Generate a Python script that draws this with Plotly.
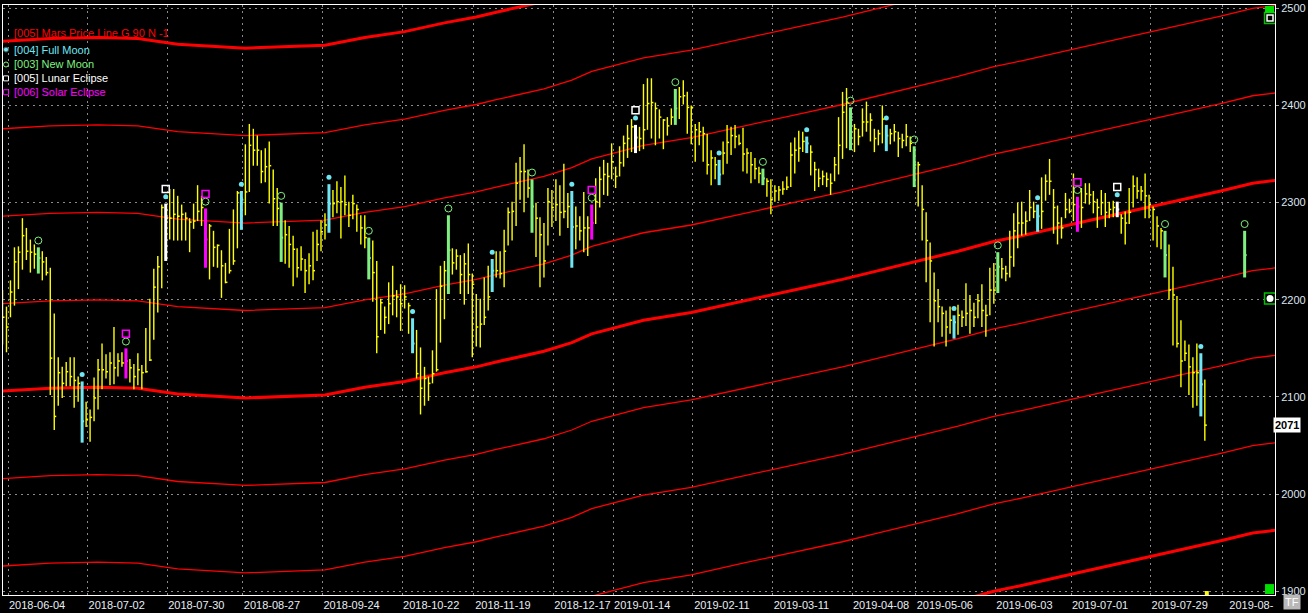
import plotly.graph_objects as go

# daily bars, index 0 = 2018-05-31
highs = [
    2210, 2193, 2220, 2254, 2255, 2284, 2274, 2262, 2257, 2254,
    2250, 2244, 2233, 2186, 2141, 2131, 2136, 2141, 2141, 2121,
    2116, 2095, 2087, 2120, 2139, 2155, 2144, 2146, 2172, 2145,
    2146, 2150, 2139, 2134, 2145, 2133, 2171, 2201, 2232, 2245,
    2298, 2299, 2314, 2314, 2307, 2298, 2290, 2284, 2299, 2318,
    2307, 2294, 2278, 2271, 2257, 2251, 2238, 2273, 2293, 2312,
    2312, 2360, 2381, 2376, 2369, 2354, 2356, 2363, 2334, 2315,
    2300, 2282, 2276, 2266, 2253, 2255, 2242, 2248, 2270, 2272,
    2282, 2289, 2319, 2313, 2322, 2316, 2328, 2301, 2308, 2298,
    2287, 2287, 2264, 2261, 2240, 2201, 2193, 2218, 2235, 2210,
    2216, 2215, 2197, 2181, 2169, 2151, 2131, 2121, 2148, 2211,
    2235, 2240, 2287, 2253, 2252, 2246, 2248, 2258, 2227, 2206,
    2201, 2223, 2235, 2242, 2250, 2250, 2272, 2295, 2301, 2341,
    2347, 2360, 2334, 2324, 2300, 2285, 2279, 2315, 2313, 2324,
    2318, 2340, 2310, 2312, 2296, 2286, 2311, 2286, 2298, 2325,
    2337, 2344, 2341, 2361, 2337, 2358, 2369, 2380, 2386, 2380,
    2378, 2422, 2428, 2428, 2403, 2396, 2386, 2388, 2397, 2417,
    2419, 2426, 2414, 2400, 2381, 2383, 2378, 2371, 2354, 2347,
    2344, 2363, 2380, 2378, 2380, 2370, 2377, 2356, 2352, 2346,
    2337, 2335, 2325, 2324, 2318, 2317, 2322, 2327, 2362, 2367,
    2374, 2373, 2368, 2359, 2342, 2335, 2333, 2331, 2330, 2347,
    2388, 2414, 2418, 2398, 2381, 2376, 2397, 2404, 2392, 2376,
    2375, 2400, 2380, 2376, 2381, 2373, 2371, 2381, 2368, 2358,
    2342, 2318, 2290, 2259, 2228, 2211, 2193, 2189, 2193, 2184,
    2195, 2189, 2217, 2205, 2197, 2206, 2216, 2195, 2233, 2238,
    2249, 2243, 2235, 2271, 2289, 2300, 2301, 2291, 2313, 2301,
    2298, 2326, 2329, 2345, 2314, 2297, 2285, 2310, 2304, 2330,
    2306, 2315, 2320, 2320, 2312, 2304, 2313, 2310, 2301, 2302,
    2301, 2288, 2291, 2315, 2328, 2326, 2317, 2330, 2308, 2296,
    2286, 2274, 2271, 2257, 2234, 2204, 2179, 2158, 2154, 2141,
    2155, 2145, 2118,
]
lows = [
    2154, 2146, 2182, 2194, 2211, 2231, 2241, 2228, 2232, 2227,
    2220, 2225, 2102, 2066, 2091, 2099, 2111, 2111, 2089, 2095,
    2053, 2069, 2054, 2075, 2087, 2108, 2119, 2112, 2113, 2121,
    2131, 2119, 2115, 2108, 2112, 2108, 2125, 2137, 2159, 2187,
    2212, 2240, 2262, 2261, 2261, 2261, 2261, 2249, 2273, 2281,
    2276, 2233, 2221, 2234, 2233, 2202, 2217, 2227, 2236, 2253,
    2272, 2287, 2311, 2338, 2338, 2320, 2321, 2299, 2276, 2276,
    2239, 2237, 2233, 2214, 2223, 2230, 2207, 2216, 2220, 2240,
    2250, 2262, 2269, 2285, 2289, 2263, 2287, 2275, 2283, 2270,
    2257, 2253, 2221, 2198, 2145, 2169, 2165, 2175, 2184, 2182,
    2168, 2191, 2165, 2145, 2119, 2082, 2091, 2096, 2114, 2126,
    2156, 2180, 2206, 2226, 2231, 2206, 2195, 2206, 2141, 2152,
    2151, 2174, 2189, 2208, 2223, 2222, 2213, 2256, 2261, 2276,
    2303, 2290, 2305, 2269, 2244, 2213, 2223, 2256, 2275, 2281,
    2266, 2284, 2274, 2233, 2252, 2261, 2249, 2245, 2262, 2278,
    2295, 2308, 2307, 2324, 2315, 2327, 2337, 2346, 2352, 2351,
    2353, 2355, 2375, 2366, 2359, 2366, 2355, 2369, 2380, 2380,
    2386, 2401, 2371, 2360, 2342, 2359, 2342, 2329, 2318, 2324,
    2318, 2329, 2340, 2349, 2356, 2359, 2332, 2330, 2320, 2324,
    2320, 2318, 2306, 2288, 2301, 2302, 2308, 2313, 2316, 2330,
    2342, 2352, 2351, 2328, 2312, 2316, 2318, 2316, 2308, 2322,
    2329, 2345, 2356, 2354, 2352, 2359, 2368, 2373, 2363, 2352,
    2359, 2361, 2353, 2360, 2363, 2347, 2356, 2358, 2352, 2316,
    2296, 2261, 2218, 2177, 2152, 2177, 2162, 2152, 2165, 2160,
    2164, 2172, 2173, 2165, 2172, 2181, 2172, 2162, 2184, 2196,
    2207, 2222, 2219, 2223, 2234, 2253, 2266, 2267, 2281, 2284,
    2270, 2273, 2302, 2308, 2268, 2257, 2263, 2284, 2289, 2281,
    2270, 2274, 2299, 2298, 2289, 2274, 2287, 2275, 2284, 2285,
    2285, 2268, 2257, 2278, 2295, 2304, 2302, 2284, 2284, 2261,
    2254, 2252, 2223, 2200, 2153, 2151, 2110, 2137, 2102, 2089,
    2091, 2080, 2055,
]
closes = [
    2182, 2172, 2208, 2239, 2249, 2266, 2250, 2249, 2247, 2243,
    2239, 2228, 2140, 2080, 2125, 2114, 2126, 2121, 2117, 2114,
    2075, 2077, 2079, 2099, 2128, 2128, 2126, 2135, 2130, 2137,
    2135, 2137, 2130, 2121, 2128, 2125, 2126, 2138, 2213, 2234,
    2295, 2284, 2284, 2288, 2286, 2288, 2284, 2280, 2281, 2291,
    2295, 2262, 2276, 2254, 2256, 2235, 2218, 2230, 2240, 2310,
    2303, 2311, 2359, 2354, 2354, 2332, 2337, 2338, 2304, 2294,
    2264, 2267, 2257, 2252, 2233, 2242, 2230, 2235, 2230, 2257,
    2270, 2277, 2299, 2299, 2301, 2301, 2298, 2287, 2299, 2293,
    2274, 2264, 2243, 2228, 2162, 2197, 2182, 2196, 2204, 2203,
    2196, 2203, 2194, 2155, 2124, 2109, 2119, 2114, 2124, 2128,
    2214, 2230, 2251, 2238, 2245, 2226, 2237, 2226, 2216, 2172,
    2175, 2182, 2203, 2230, 2230, 2227, 2250, 2290, 2291, 2320,
    2332, 2332, 2315, 2296, 2284, 2267, 2240, 2301, 2295, 2298,
    2290, 2291, 2296, 2275, 2276, 2271, 2274, 2274, 2279, 2301,
    2324, 2329, 2327, 2342, 2327, 2341, 2361, 2366, 2378, 2367,
    2366, 2375, 2402, 2403, 2397, 2388, 2385, 2379, 2388, 2397,
    2409, 2410, 2398, 2398, 2375, 2373, 2371, 2339, 2346, 2339,
    2329, 2351, 2362, 2369, 2368, 2361, 2350, 2351, 2339, 2335,
    2330, 2325, 2322, 2303, 2312, 2313, 2314, 2316, 2349, 2354,
    2356, 2363, 2361, 2352, 2334, 2325, 2327, 2324, 2320, 2339,
    2359, 2393, 2403, 2388, 2376, 2368, 2383, 2383, 2385, 2366,
    2371, 2386, 2369, 2371, 2373, 2366, 2364, 2368, 2361, 2339,
    2339, 2293, 2261, 2240, 2199, 2193, 2186, 2172, 2179, 2177,
    2184, 2182, 2186, 2189, 2182, 2199, 2189, 2184, 2210, 2210,
    2234, 2232, 2227, 2244, 2271, 2279, 2279, 2281, 2295, 2291,
    2286, 2291, 2322, 2322, 2295, 2279, 2274, 2293, 2291, 2298,
    2296, 2295, 2309, 2308, 2301, 2295, 2300, 2290, 2293, 2295,
    2293, 2284, 2279, 2290, 2317, 2312, 2312, 2307, 2298, 2293,
    2276, 2271, 2246, 2210, 2205, 2155, 2137, 2145, 2131, 2125,
    2125, 2113, 2071,
]

full_moon_bars = [20, 41, 60, 82, 103, 123, 143, 159, 180, 202, 222, 239, 260, 280, 301]
new_moon_bars = [9, 31, 51, 70, 92, 112, 133, 148, 169, 191, 213, 229, 250, 270, 292]
lunar_eclipse_bars = [41, 159, 280]
solar_eclipse_bars = [31, 51, 148, 270]

# projected new moon bar after the last session
future_bar = 312
future_high, future_low, future_close = 2271, 2223, 2246

# Mars price line (base harmonic), read at a few bar positions
mars_bars = [0, 12, 24, 34, 44, 52, 61, 81, 91, 101, 111, 119, 124, 136, 143, 148,
             161, 173, 186, 194, 202, 211, 219, 230, 240, 249, 256, 269, 280, 288,
             298, 306, 314, 320]
mars_base = [2106, 2109, 2110, 2109, 2103, 2101, 2099, 2102, 2110, 2116, 2125, 2131,
             2136, 2147, 2156, 2165, 2179, 2187, 2199, 2206, 2213, 2221, 2229, 2240,
             2250, 2260, 2266, 2278, 2288, 2296, 2305, 2312, 2320, 2323]
mars_steps = [-4, -3, -2, -1, 0, 1, 2, 3, 4]   # multiples of 90

tick_bars = [2, 22, 42, 61, 81, 101, 119, 139, 154, 174, 194, 214, 230, 250, 269, 289, 307]
tick_labels = ['2018-06-04', '2018-07-02', '2018-07-30', '2018-08-27', '2018-09-24',
               '2018-10-22', '2018-11-19', '2018-12-17', '2019-01-14', '2019-02-11',
               '2019-03-11', '2019-04-08', '2019-05-06', '2019-06-03', '2019-07-01',
               '2019-07-29', '2019-08-']
y_ticks = [1900, 2000, 2100, 2200, 2300, 2400, 2500]
last_price = 2071

YELLOW = '#ffff00'
CYAN = '#6fe6f2'
GREEN = '#7ff07f'
MAGENTA = '#ff00ff'
RED = '#ff0000'

W, H = 1308, 613
L, R, T, B = 3, 27, 2, 16


def px_x(px):
    return (px - L) / (W - L - R)


def px_y(py):
    return (H - B - py) / (H - T - B)


def segments(idx, hi, lo, cl):
    xs, ys, cx, cy = [], [], [], []
    for i, h, l, c in zip(idx, hi, lo, cl):
        xs += [i, i, None]
        ys += [l, h, None]
        cx += [i, i + 0.5, None]
        cy += [c, c, None]
    return xs, ys, cx, cy


fig = go.Figure()

# Mars price lines
for k in mars_steps:
    fig.add_trace(go.Scatter(
        x=mars_bars, y=[b + 90 * k for b in mars_base], mode='lines',
        line=dict(color=RED, width=3 if k % 4 == 0 else 1.3),
        hoverinfo='skip'))

events = set(full_moon_bars) | set(new_moon_bars)
plain = [i for i in range(len(highs)) if i not in events]
xs, ys, cx, cy = segments(plain, [highs[i] for i in plain], [lows[i] for i in plain],
                          [closes[i] for i in plain])
fig.add_trace(go.Scatter(x=xs, y=ys, mode='lines', line=dict(color=YELLOW, width=1.4)))
fig.add_trace(go.Scatter(x=cx, y=cy, mode='lines', line=dict(color=YELLOW, width=1.5)))


def bar_colour(i):
    if i in lunar_eclipse_bars:
        return 'white'
    if i in solar_eclipse_bars:
        return MAGENTA
    if i in full_moon_bars:
        return CYAN
    return GREEN


ev_idx = sorted(events) + [future_bar]
ev_hi = [highs[i] for i in sorted(events)] + [future_high]
ev_lo = [lows[i] for i in sorted(events)] + [future_low]
ev_cl = [closes[i] for i in sorted(events)] + [future_close]
for colour in ['white', MAGENTA, CYAN, GREEN]:
    sel = [n for n, i in enumerate(ev_idx) if bar_colour(i) == colour]
    xs, ys, cx, cy = segments([ev_idx[n] for n in sel], [ev_hi[n] for n in sel],
                              [ev_lo[n] for n in sel], [ev_cl[n] for n in sel])
    fig.add_trace(go.Scatter(x=xs, y=ys, mode='lines', line=dict(color=colour, width=3)))
    fig.add_trace(go.Scatter(x=cx, y=cy, mode='lines', line=dict(color=colour, width=2)))

# moon / eclipse markers above the bars
fig.add_trace(go.Scatter(
    x=full_moon_bars, y=[highs[i] + 7 for i in full_moon_bars], mode='markers',
    marker=dict(symbol='circle', size=5, color=CYAN)))
nm_x = new_moon_bars + [future_bar]
nm_y = [highs[i] + 7 for i in new_moon_bars] + [future_high + 7]
fig.add_trace(go.Scatter(
    x=nm_x, y=nm_y, mode='markers',
    marker=dict(symbol='circle-open', size=7, color=GREEN, line=dict(width=1))))
fig.add_trace(go.Scatter(
    x=lunar_eclipse_bars, y=[highs[i] + 15 for i in lunar_eclipse_bars], mode='markers',
    marker=dict(symbol='square-open', size=7, color='white', line=dict(width=1.5))))
fig.add_trace(go.Scatter(
    x=solar_eclipse_bars, y=[highs[i] + 15 for i in solar_eclipse_bars], mode='markers',
    marker=dict(symbol='square-open', size=7, color=MAGENTA, line=dict(width=1.5))))

# legend block (top left)
legend_rows = [
    ('[005] Mars Price Line G 90 N -1', RED, None, 30),
    ('[004] Full Moon', CYAN, 'circle', 47),
    ('[003] New Moon', GREEN, 'circle-open', 62),
    ('[005] Lunar Eclipse', 'white', 'square-open', 76),
    ('[006] Solar Eclipse', MAGENTA, 'square-open', 90),
]
for text, colour, sym, py in legend_rows:
    fig.add_annotation(text=text, xref='paper', yref='paper', x=px_x(12), y=px_y(py),
                       xanchor='left', yanchor='middle', showarrow=False,
                       font=dict(color=colour, size=11))
    if sym:
        fig.add_trace(go.Scatter(
            x=[px_x(6)], y=[px_y(py)], xaxis='x2', yaxis='y2', mode='markers',
            marker=dict(symbol=sym, size=5, color=colour, line=dict(width=1))))

# right-edge icons: session markers and price-scale flags
fig.add_trace(go.Scatter(
    x=[px_x(1276), px_x(1276)], y=[px_y(15), px_y(298)], xaxis='x2', yaxis='y2',
    mode='markers', marker=dict(symbol='square', size=11, color='black',
                                line=dict(color='#00c000', width=1.5))))
fig.add_trace(go.Scatter(
    x=[px_x(1276)], y=[px_y(15)], xaxis='x2', yaxis='y2', mode='markers',
    marker=dict(symbol='square-open', size=6, color='white', line=dict(width=1.5))))
fig.add_trace(go.Scatter(
    x=[px_x(1276)], y=[px_y(298)], xaxis='x2', yaxis='y2', mode='markers',
    marker=dict(symbol='circle', size=7, color='white')))

# last price box on the price scale
fig.add_annotation(text='<b>2071</b>', xref='paper', yref='y', x=1, y=last_price,
                   xanchor='left', yanchor='middle', showarrow=False, xshift=-2,
                   bgcolor='white', font=dict(color='black', size=11),
                   borderpad=1)
fig.add_annotation(text='TF', xref='paper', yref='paper', x=px_x(1298), y=px_y(604),
                   xanchor='center', yanchor='middle',
                   showarrow=False, bgcolor='#b8b8b8', font=dict(color='white', size=11),
                   borderpad=1)

# small markers on the right edge
fig.add_shape(type='rect', xref='paper', yref='paper', x0=px_x(1271), x1=px_x(1280),
              y0=px_y(10), y1=px_y(3), fillcolor='#00e000', line_width=0)
fig.add_shape(type='rect', xref='paper', yref='paper', x0=px_x(1271), x1=px_x(1280),
              y0=px_y(596), y1=px_y(586), fillcolor='#00e000', line_width=0)
fig.add_shape(type='rect', xref='x', yref='paper', x0=302, x1=303,
              y0=px_y(597), y1=px_y(593), fillcolor=YELLOW, line_width=0)

grid = dict(showgrid=True, gridcolor='#8a8a8a', griddash='2px,4px', gridwidth=1,
            zeroline=False, showline=True, linecolor='white', linewidth=1, mirror=True)

fig.update_layout(
    width=W, height=H, margin=dict(l=L, r=R, t=T, b=B),
    paper_bgcolor='black', plot_bgcolor='black', showlegend=False,
    font=dict(family='Liberation Sans, Arial, sans-serif', size=11, color='white'),
    hovermode=False,
    xaxis=dict(range=[0.125, 319.625], tickvals=[t - 0.6 for t in tick_bars],
               ticktext=tick_labels, ticks='', ticklabelshift=29,
               tickfont=dict(color='#e8eef4', size=11), **grid),
    yaxis=dict(range=[1896.2, 2503.4], side='right', tickvals=y_ticks,
               ticks='outside', ticklen=3, tickcolor='#a0a0a0',
               tickfont=dict(color='#dce6f0', size=11), **grid),
    xaxis2=dict(range=[0, 1], overlaying='x', visible=False),
    yaxis2=dict(range=[0, 1], overlaying='y', visible=False),
)

fig.write_html('out.html', config={'displayModeBar': False},
               post_script="document.body.style.margin='0';")
